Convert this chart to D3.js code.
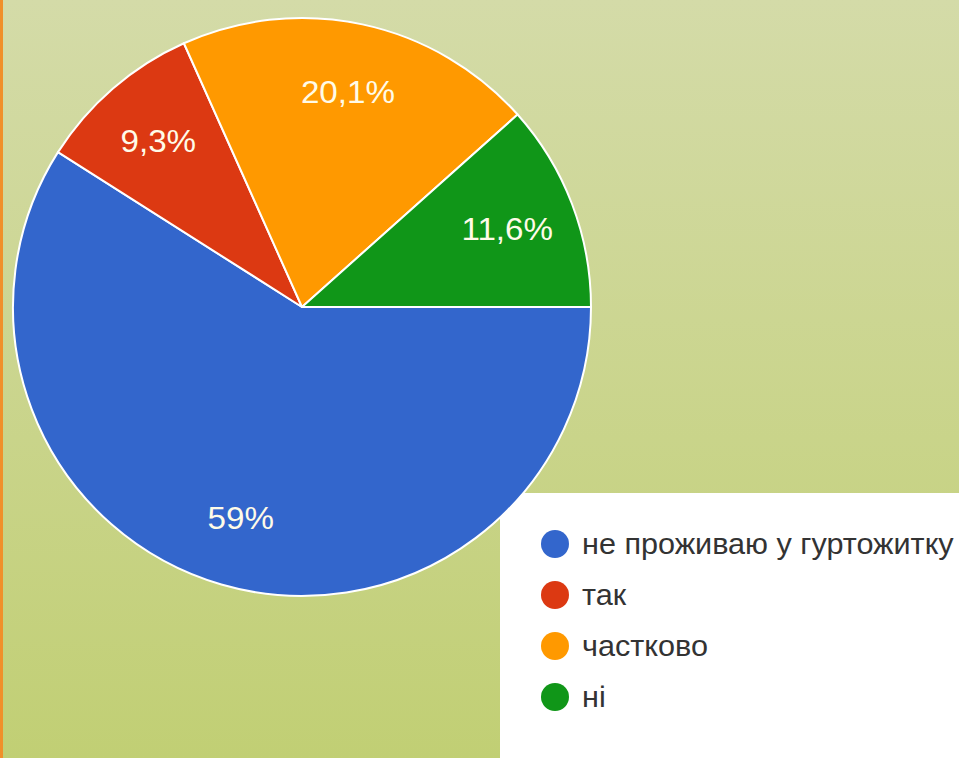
<!DOCTYPE html>
<html>
<head>
<meta charset="utf-8">
<script src="https://cdn.jsdelivr.net/npm/d3@7"></script>
<style>
  html, body { margin: 0; padding: 0; overflow: hidden; }
  svg { display: block; }
</style>
</head>
<body>
<svg id="chart" width="959" height="758"></svg>
<script>
const categories = ["не проживаю у гуртожитку", "так", "частково", "ні"];
const values = [59, 9.3, 20.1, 11.6];
const labels = ["59%", "9,3%", "20,1%", "11,6%"];
const colors = ["#3366cc", "#dc3912", "#ff9900", "#109618"];

const W = 959, H = 758;
const svg = d3.select("#chart");

const defs = svg.append("defs");
const grad = defs.append("linearGradient").attr("id", "bg").attr("x1", 0).attr("y1", 0).attr("x2", 0).attr("y2", 1);
grad.append("stop").attr("offset", "0%").attr("stop-color", "#d4dba8");
grad.append("stop").attr("offset", "100%").attr("stop-color", "#c1cf74");

svg.append("rect").attr("width", W).attr("height", H).attr("fill", "url(#bg)");
svg.append("rect").attr("x", 0).attr("y", 0).attr("width", 3).attr("height", H).attr("fill", "#f0902a");

// legend box
svg.append("rect").attr("x", 500).attr("y", 493).attr("width", W - 500).attr("height", H - 493).attr("fill", "#ffffff");

const cx = 302, cy = 307, r = 289;
const pie = d3.pie().sort(null).value(d => d).startAngle(Math.PI / 2).endAngle(Math.PI / 2 + 2 * Math.PI);
const arcs = pie(values);
const arc = d3.arc().innerRadius(0).outerRadius(r);
const labelArc = d3.arc().innerRadius(r * 0.76).outerRadius(r * 0.76);

const g = svg.append("g").attr("transform", `translate(${cx},${cy})`);
g.selectAll("path.slice").data(arcs).enter().append("path")
  .attr("class", "slice")
  .attr("d", arc)
  .attr("fill", (d, i) => colors[i])
  .attr("stroke", "#ffffff")
  .attr("stroke-width", 2)
  .attr("stroke-linejoin", "round");

g.selectAll("text.lbl").data(arcs).enter().append("text")
  .attr("class", "lbl")
  .attr("transform", d => `translate(${labelArc.centroid(d)}) scale(1.07,1)`)
  .attr("text-anchor", "middle")
  .attr("dy", "0.36em")
  .attr("font-family", "Liberation Sans, Arial, sans-serif")
  .attr("font-size", 31)
  .attr("fill", "#fffbe8")
  .text((d, i) => labels[i]);

// legend
const legY = d3.scalePoint().domain(categories).range([544, 697]);
const leg = svg.append("g");
const rows = leg.selectAll("g.row").data(categories).enter().append("g")
  .attr("class", "row")
  .attr("transform", d => `translate(0,${legY(d)})`);
rows.append("circle").attr("cx", 555).attr("cy", 0).attr("r", 14).attr("fill", (d, i) => colors[i]);
rows.append("text")
  .attr("transform", "translate(582,0) scale(1.055,1)")
  .attr("dy", "0.36em")
  .attr("font-family", "Liberation Sans, Arial, sans-serif")
  .attr("font-size", 29)
  .attr("fill", "#333333")
  .text(d => d);
</script>
</body>
</html>
